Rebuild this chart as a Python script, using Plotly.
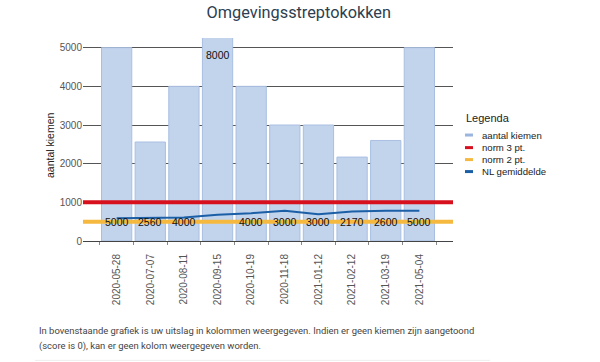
import plotly.graph_objects as go

dates = ["2020-05-28", "2020-07-07", "2020-08-11", "2020-09-15", "2020-10-19",
         "2020-11-18", "2021-01-12", "2021-02-12", "2021-03-19", "2021-05-04"]
kiemen = [5000, 2560, 4000, 8000, 4000, 3000, 3000, 2170, 2600, 5000]
nl_gemiddelde = [590, 595, 610, 680, 720, 780, 690, 760, 780, 780]
norm3 = 1000
norm2 = 500
y_max = 5250
y_ticks = [0, 1000, 2000, 3000, 4000, 5000]
legend_names = ["aantal kiemen", "norm 3 pt.", "norm 2 pt.", "NL gemiddelde"]
footnote = ["In bovenstaande grafiek is uw uitslag in kolommen weergegeven. Indien er geen kiemen zijn aangetoond",
            "(score is 0), kan er geen kolom weergegeven worden."]

idx = list(range(len(dates)))
x_span = [-1, len(dates)]

BAR = "#c2d3ec"
BAR_LINE = "#a9bfe2"
RED = "#d7101e"
ORANGE = "#f6b93f"
BLUE = "#1b5fa6"
legend_colors = ["#9ab6e0", RED, ORANGE, BLUE]

fig = go.Figure()
fig.add_trace(go.Bar(x=idx, y=kiemen, marker=dict(color=BAR, line=dict(color=BAR_LINE, width=1)),
                     showlegend=False, name="aantal kiemen"))
fig.add_trace(go.Scatter(x=x_span, y=[norm3, norm3], mode="lines", line=dict(color=RED, width=4),
                         name="norm 3 pt.", showlegend=False))
fig.add_trace(go.Scatter(x=x_span, y=[norm2, norm2], mode="lines", line=dict(color=ORANGE, width=4),
                         name="norm 2 pt.", showlegend=False))
fig.add_trace(go.Scatter(x=idx, y=nl_gemiddelde, mode="lines", line=dict(color=BLUE, width=2),
                         name="NL gemiddelde", showlegend=False))

for i, v in zip(idx, kiemen):
    yy = 485 if v <= y_max else y_max - 430
    fig.add_annotation(x=i, y=yy, text=str(v), showarrow=False,
                       font=dict(family="Liberation Sans", size=10.5, color="#111"))

# y axis title
fig.add_annotation(xref="paper", yref="paper", x=-0.089, y=0.473, xanchor="center", yanchor="middle",
                   text="aantal kiemen", textangle=-90, showarrow=False,
                   font=dict(family="Liberation Sans", size=10.5, color="#222"))

# manual legend (compact, like reference)
fig.add_annotation(xref="paper", yref="paper", x=1.030, y=0.606, xanchor="left", yanchor="middle",
                   text="Legenda", showarrow=False,
                   font=dict(family="Liberation Sans", size=11, color="#222"))
leg_y = [0.522, 0.460, 0.401, 0.342]
for name, col, yy in zip(legend_names, legend_colors, leg_y):
    fig.add_shape(type="line", xref="paper", yref="paper", x0=1.0324, x1=1.054, y0=yy, y1=yy,
                  line=dict(color=col, width=3))
    fig.add_annotation(xref="paper", yref="paper", x=1.072, y=yy, xanchor="left", yanchor="middle",
                       text=name, showarrow=False,
                       font=dict(family="Liberation Sans", size=9.6, color="#222"))

for line, yy in zip(footnote, [-0.443, -0.517]):
    fig.add_annotation(xref="paper", yref="paper", x=-0.125, y=yy, xanchor="left", yanchor="middle",
                       align="left", showarrow=False, text=line,
                       font=dict(family="Roboto", size=9.45, color="#444"))
fig.add_shape(type="line", xref="paper", yref="paper", x0=-0.13, x1=1.1, y0=-0.588, y1=-0.588,
              line=dict(color="#eeeeee", width=1))

fig.update_layout(
    width=600, height=362,
    margin=dict(l=83, r=147, t=38, b=121),
    paper_bgcolor="white", plot_bgcolor="white",
    showlegend=False,
    title=dict(text="Omgevingsstreptokokken", x=0.498, xanchor="center", y=0.967, yanchor="middle",
               font=dict(family="Roboto", size=16.3, color="#2c3e50")),
    bargap=0.1,
    xaxis=dict(range=[x_span[0], x_span[1]], tickmode="array", tickvals=idx, ticktext=dates,
               tickangle=-90, showgrid=False, zeroline=False, ticks="", ticklabelstandoff=8,
               tickfont=dict(family="Liberation Sans", size=10, color="#555"),
               showline=True, linecolor="#444", linewidth=1,
               minor=dict(tickmode="linear", tick0=-0.5, dtick=1, ticks="outside", ticklen=3,
                          tickcolor="#888", showgrid=False)),
    yaxis=dict(range=[0, y_max], tickmode="array", tickvals=y_ticks, showgrid=True,
               gridcolor="#555", gridwidth=1, zeroline=False, ticks="",
               tickfont=dict(family="Liberation Sans", size=10, color="#555")),
)
fig.write_html("out.html", config={"displayModeBar": False},
               post_script="document.body.style.margin='0';")
